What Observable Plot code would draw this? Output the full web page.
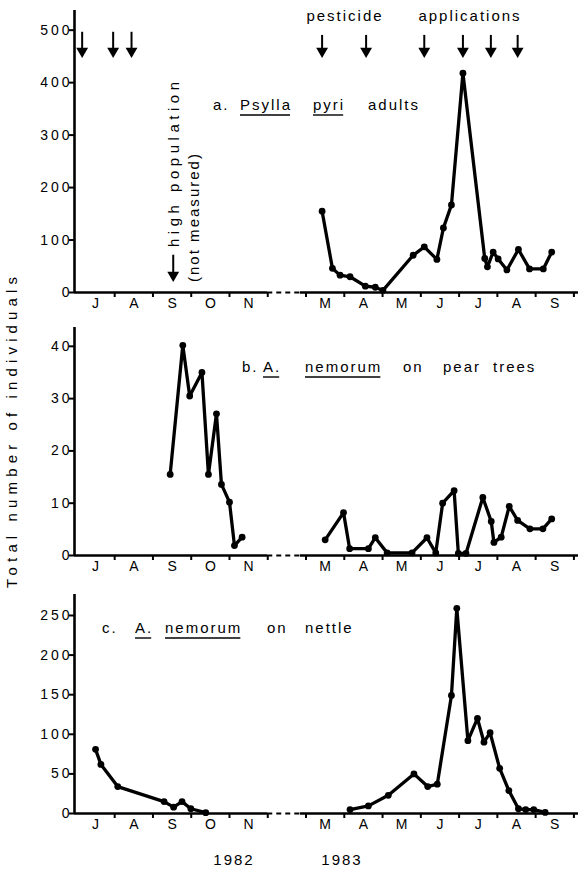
<!DOCTYPE html>
<html>
<head>
<meta charset="utf-8">
<script src="https://cdn.jsdelivr.net/npm/d3@7"></script>
<script src="https://cdn.jsdelivr.net/npm/@observablehq/plot@0.6"></script>
<style>
  body { margin: 0; background: #fff; }
  #wrap { position: relative; width: 580px; height: 872px; overflow: hidden; }
  #wrap > svg { display: block; }
  g[aria-label="y-axis tick label"] text { letter-spacing: 3px; }
  .ann { font-family: "Liberation Sans", Arial, Helvetica, sans-serif; font-size: 15px; letter-spacing: 2px; fill: #000; }
  #overlay { position: absolute; left: 0; top: 0; pointer-events: none; }
</style>
</head>
<body>
<div id="wrap"></div>
<script>
// ---------------- data ----------------
// time axis: months of 1982 (Jul–Nov) and 1983 (Mar–Sep), as decimal month numbers
const months1982 = ["J", "A", "S", "O", "N"];          // Jul..Nov 1982
const months1983 = ["M", "A", "M", "J", "J", "A", "S"]; // Mar..Sep 1983
const yearLabels = ["1982", "1983"];

// pesticide application dates (decimal month)
const sprays1982 = [7.15, 7.96, 8.44];
const sprays1983 = [3.42, 4.57, 6.09, 7.10, 7.83, 8.53];
const highPopDate1982 = 9.53;

// a. Psylla pyri adults (1983 only)
const psyllaDates1983 = [3.42, 3.69, 3.89, 4.15, 4.55, 4.81, 5.01, 5.80, 6.09, 6.42, 6.59, 6.80, 7.10, 7.67, 7.74, 7.89, 8.02, 8.25, 8.55, 8.84, 9.20, 9.42];
const psyllaCounts1983 = [155, 46, 33, 30, 12, 10, 4, 71, 87, 63, 123, 167, 418, 65, 49, 77, 64, 43, 82, 45, 45, 77];

// b. A. nemorum on pear trees
const pearDates1982 = [9.45, 9.78, 9.96, 10.28, 10.45, 10.66, 10.79, 11.00, 11.13, 11.33];
const pearCounts1982 = [15.5, 40.2, 30.5, 35, 15.5, 27.1, 13.6, 10.2, 1.9, 3.5];
const pearDates1983 = [3.50, 3.98, 4.14, 4.63, 4.81, 5.12, 5.77, 6.16, 6.39, 6.57, 6.87, 6.98, 7.18, 7.62, 7.84, 7.91, 8.10, 8.31, 8.53, 8.85, 9.19, 9.42];
const pearCounts1983 = [3.0, 8.2, 1.3, 1.3, 3.4, 0.5, 0.5, 3.4, 0.5, 10.0, 12.4, 0.4, 0.4, 11.1, 6.5, 2.5, 3.5, 9.4, 6.7, 5.1, 5.1, 7.0];

// c. A. nemorum on nettle
const nettleDates1982 = [7.50, 7.64, 8.08, 9.29, 9.54, 9.76, 9.99, 10.38];
const nettleCounts1982 = [81, 62, 34, 15, 8, 15, 6, 1];
const nettleDates1983 = [4.15, 4.63, 5.15, 5.82, 6.18, 6.43, 6.80, 6.94, 7.23, 7.48, 7.65, 7.81, 8.06, 8.30, 8.55, 8.74, 8.95, 9.25];
const nettleCounts1983 = [5, 9.6, 23, 50, 34, 37, 149, 259, 92, 120, 90, 102, 57, 29, 6, 5, 5, 1.3];

const yTicksA = [0, 100, 200, 300, 400, 500];
const yTicksB = [0, 10, 20, 30, 40];
const yTicksC = [0, 50, 100, 150, 200, 250];

// ---------------- layout helpers ----------------
const FONT = '"Liberation Sans", Arial, Helvetica, sans-serif';
// broken time axis: Jul 1982 start = 0 ... Dec 1982 start = 5, gap, Mar 1983 start = 6 ... Oct 1983 start = 13
const pos = (year, m) => year === 1982 ? m - 7 : m - 3 + 6;
const X0 = -0.05, X1 = 13.12;
const breakStart = pos(1982, 12), breakEnd = breakStart + 0.85;

const boundaries = [
  ...months1982.map((_, i) => pos(1982, 8 + i)),
  ...months1983.map((_, i) => pos(1983, 3 + i)), pos(1983, 10)
];
const monthLabels = [
  ...months1982.map((label, i) => ({x: pos(1982, 7 + i + 0.5), label})),
  ...months1983.map((label, i) => ({x: pos(1983, 3 + i + 0.5), label}))
];

function series(year, dates, counts) {
  return dates.map((m, i) => ({year, x: pos(year, m), y: counts[i]}));
}

function makePanel({height, marginTop, marginBottom, yMax, yTicks, pts, extra = []}) {
  return Plot.plot({
    width: 580, height, marginLeft: 74, marginRight: 2, marginTop, marginBottom,
    x: {domain: [X0, X1]},
    y: {domain: [0, yMax]},
    style: {fontFamily: FONT, fontSize: "13px", background: "#fff", color: "#000"},
    marks: [
      Plot.ruleY([{a: X0, b: breakStart}, {a: breakEnd, b: X1}], {x1: "a", x2: "b", y: 0, stroke: "#000", strokeWidth: 2.6}),
      Plot.ruleY([{a: breakStart, b: breakEnd}], {x1: "a", x2: "b", y: 0, stroke: "#000", strokeWidth: 2, strokeDasharray: "5,4"}),
      Plot.ruleX([X0], {stroke: "#000", strokeWidth: 2.6}),
      Plot.axisX({ticks: boundaries, tickSize: 5, tickFormat: () => "", strokeWidth: 2, label: null}),
      Plot.text(monthLabels, {x: "x", text: "label", frameAnchor: "bottom", lineAnchor: "top", dy: 6, fontSize: 14}),
      Plot.axisY({ticks: yTicks, tickSize: 5, tickPadding: -3, strokeWidth: 2, fontSize: 14, label: null}),
      Plot.line(pts, {x: "x", y: "y", z: "year", stroke: "#000", strokeWidth: 3.3, strokeLinejoin: "round", strokeLinecap: "round"}),
      Plot.dot(pts, {x: "x", y: "y", r: 3.4, fill: "#000"}),
      ...extra
    ]
  });
}

const sprayPts = [
  ...sprays1982.map(m => ({x: pos(1982, m), top: 496})),
  ...sprays1983.map(m => ({x: pos(1983, m), top: 490}))
];
const highPop = [{x: pos(1982, highPopDate1982)}];

const wrap = document.getElementById("wrap");

const pa = makePanel({
  height: 312, marginTop: 10, marginBottom: 20, yMax: 537.5, yTicks: yTicksA,
  pts: series(1983, psyllaDates1983, psyllaCounts1983),
  extra: [
    Plot.ruleX(sprayPts, {x: "x", y1: "top", y2: 455, stroke: "#000", strokeWidth: 2}),
    Plot.dot(sprayPts, {x: "x", y: 447, symbol: "triangle", rotate: 180, r: 4.4, fill: "#000", dy: -6.8}),
    Plot.ruleX(highPop, {x: "x", y1: 71, y2: 28, stroke: "#000", strokeWidth: 2}),
    Plot.dot(highPop, {x: "x", y: 20, symbol: "triangle", rotate: 180, r: 4.4, fill: "#000", dy: -6.8})
  ]
});
const pb = makePanel({
  height: 263, marginTop: 15, marginBottom: 20, yMax: 43.6, yTicks: yTicksB,
  pts: [...series(1982, pearDates1982, pearCounts1982), ...series(1983, pearDates1983, pearCounts1983)]
});
const pc = makePanel({
  height: 297, marginTop: 19, marginBottom: 59, yMax: 276.5, yTicks: yTicksC,
  pts: [...series(1982, nettleDates1982, nettleCounts1982), ...series(1983, nettleDates1983, nettleCounts1983)]
});
wrap.append(pa, pb, pc);

// ---------------- annotations ----------------
function annGroup(svg) {
  return d3.select(svg).append("g").attr("class", "ann").attr("text-anchor", "start");
}
function words(svg, list, y) {
  const g = annGroup(svg);
  for (const w of list) {
    const t = g.append("text").attr("x", w.x).attr("y", y).text(w.t);
    if (w.u) {
      const len = t.node().getComputedTextLength() - 2;
      g.append("line").attr("x1", w.x).attr("x2", w.x + len)
        .attr("y1", y + 5).attr("y2", y + 5).attr("stroke", "#000").attr("stroke-width", 1.4);
    }
  }
  return g;
}

words(pa, [{t: "a.", x: 213}, {t: "Psylla", x: 240, u: 1}, {t: "pyri", x: 313, u: 1}, {t: "adults", x: 368}], 110);
words(pb, [{t: "b.", x: 242}, {t: "A.", x: 263, u: 1}, {t: "nemorum", x: 305, u: 1}, {t: "on", x: 403}, {t: "pear", x: 443}, {t: "trees", x: 493}], 60);
words(pc, [{t: "c.", x: 102}, {t: "A.", x: 135, u: 1}, {t: "nemorum", x: 165, u: 1}, {t: "on", x: 267}, {t: "nettle", x: 305}], 58);

const ga = annGroup(pa);
ga.append("text").attr("x", 345).attr("y", 21).attr("text-anchor", "middle").text("pesticide");
ga.append("text").attr("x", 470).attr("y", 21).attr("text-anchor", "middle").text("applications");
const hx = pa.scale("x").apply(highPop[0].x);
ga.append("text").attr("transform", `translate(${hx + 6},247) rotate(-90)`)
  .attr("textLength", 167).attr("lengthAdjust", "spacing").text("high population");
ga.append("text").attr("transform", `translate(${hx + 26},282) rotate(-90)`)
  .attr("textLength", 130).attr("lengthAdjust", "spacing").text("(not measured)");

const gc = annGroup(pc);
gc.append("text").attr("x", 234).attr("y", 290).attr("text-anchor", "middle").text(yearLabels[0]);
gc.append("text").attr("x", 342).attr("y", 290).attr("text-anchor", "middle").text(yearLabels[1]);

// shared y label across the three panels
const ov = d3.select(wrap).append("svg").attr("id", "overlay").attr("width", 580).attr("height", 872);
ov.append("text").attr("class", "ann").attr("text-anchor", "start").attr("transform", "translate(17,588) rotate(-90)")
  .attr("textLength", 313).attr("lengthAdjust", "spacing").text("Total number of individuals");
</script>
</body>
</html>
